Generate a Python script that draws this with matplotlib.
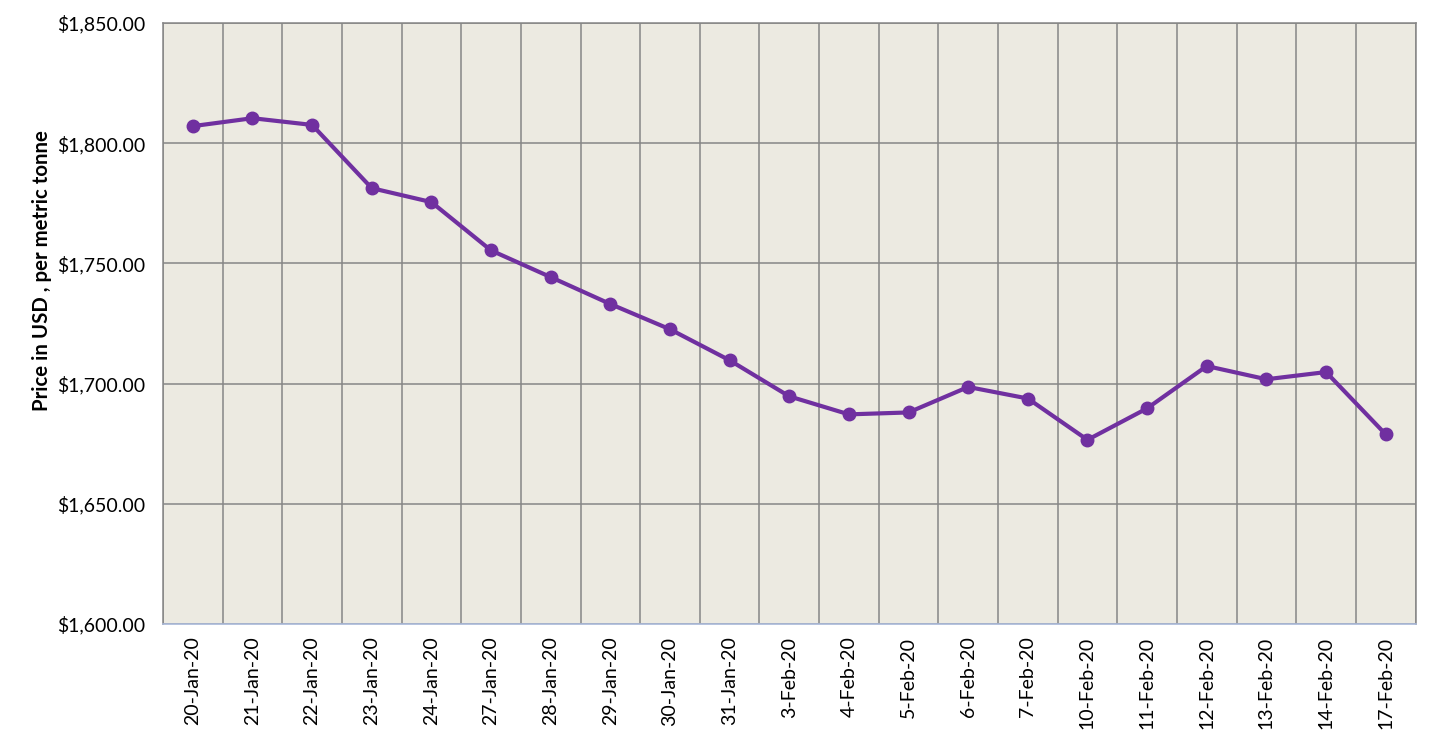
import matplotlib
matplotlib.use("Agg")
import matplotlib.pyplot as plt
from matplotlib.ticker import FuncFormatter, MultipleLocator

dates = ["20-Jan-20", "21-Jan-20", "22-Jan-20", "23-Jan-20", "24-Jan-20", "27-Jan-20",
         "28-Jan-20", "29-Jan-20", "30-Jan-20", "31-Jan-20", "3-Feb-20", "4-Feb-20",
         "5-Feb-20", "6-Feb-20", "7-Feb-20", "10-Feb-20", "11-Feb-20", "12-Feb-20",
         "13-Feb-20", "14-Feb-20", "17-Feb-20"]
prices = [1807.1, 1810.4, 1807.6, 1781.3, 1775.5, 1755.4, 1744.3, 1733.1, 1722.6, 1709.7,
          1694.7, 1687.2, 1688.0, 1698.6, 1693.8, 1676.6, 1689.7, 1707.3, 1701.8, 1704.8,
          1678.9]

plt.rcParams['font.family'] = ['Lato', 'DejaVu Sans']

fig = plt.figure(figsize=(14.38, 7.37), dpi=100)
W, H = 1438, 737
left, right, top, bottom = 163, 1415.5, 23, 624
ax = fig.add_axes([left / W, 1 - bottom / H, (right - left) / W, (bottom - top) / H])
ax.set_facecolor('#ECEAE1')

n = len(dates)
x = list(range(n))
ax.plot(x, prices, color='#7030A0', linewidth=3, marker='o', markersize=9, zorder=3)

ax.set_xlim(-0.5, n - 0.5)
ax.set_ylim(1600, 1850)
ax.yaxis.set_major_locator(MultipleLocator(50))
ax.yaxis.set_major_formatter(FuncFormatter(lambda v, p: "${:,.2f}".format(v)))

ax.set_xticks(x)
ax.set_xticklabels(dates, rotation=90, fontsize=14)
ax.tick_params(axis='y', labelsize=14, length=0, pad=13)
ax.tick_params(axis='x', length=0, pad=9)

# vertical gridlines at category boundaries
for b in range(n + 1):
    ax.axvline(b - 0.5, color='#868686', linewidth=1.1, zorder=1)
ax.yaxis.grid(True, color='#868686', linewidth=1.1, zorder=1)
ax.set_axisbelow(True)

for s in ['top', 'left', 'right']:
    ax.spines[s].set_color('#868686')
    ax.spines[s].set_linewidth(1.1)
ax.spines['bottom'].set_color('#A8B8D8')
ax.spines['bottom'].set_linewidth(1.2)

ax.set_ylabel("Price in USD , per metric tonne", fontsize=14.7, fontweight='bold')
ax.yaxis.set_label_coords((52 - left) / (right - left), (bottom - 271) / (bottom - top))

fig.savefig("out.png", dpi=100)
